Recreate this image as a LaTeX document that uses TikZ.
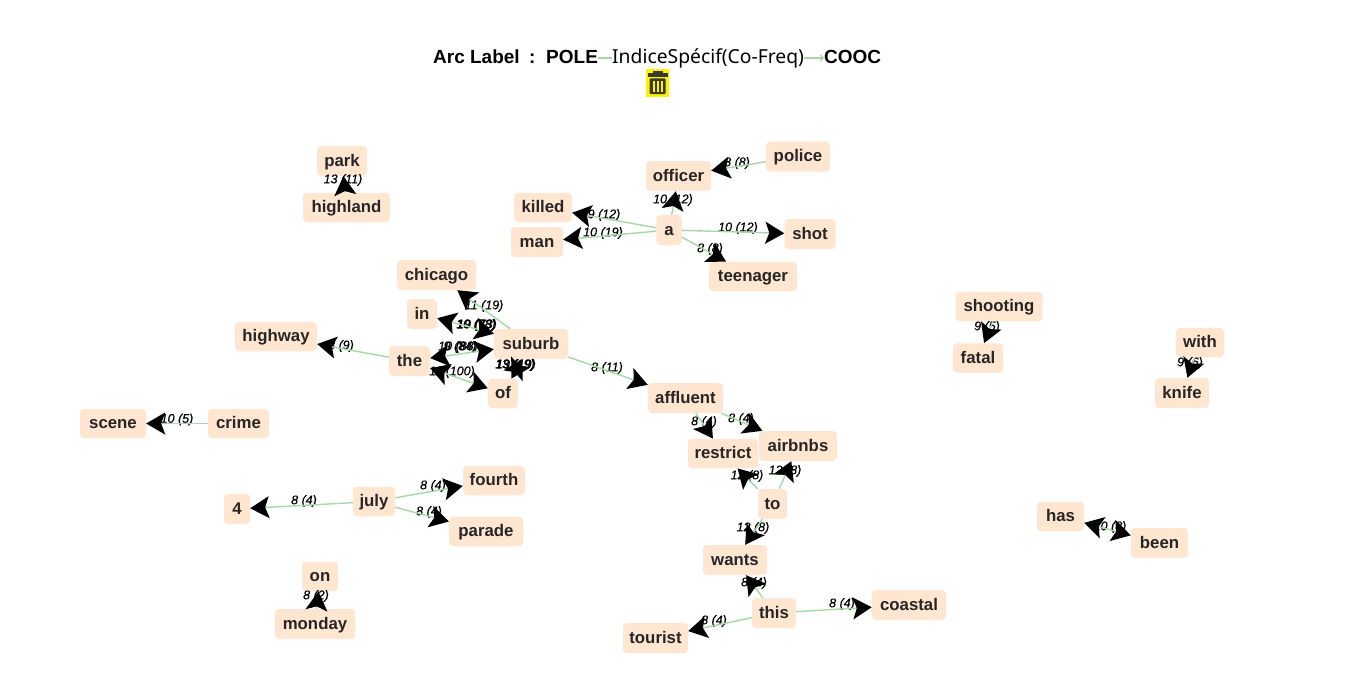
\documentclass[tikz,border=0pt]{standalone}
\usepackage{fontspec}
\setmainfont{Liberation Sans}
\newfontfamily\wordfont{Liberation Sans Bold}
\newfontfamily\labfont{Liberation Sans Italic}[FakeBold=0.4]
\newfontfamily\titlefont{Noto Sans}
\newfontfamily\titlebf{Liberation Sans Bold}
\usetikzlibrary{arrows.meta}
\definecolor{peach}{HTML}{FFE6D0}
\definecolor{edgegreen}{HTML}{A6D8A6}
\definecolor{inkc}{HTML}{262626}
\definecolor{trashc}{HTML}{3A3A2A}
\tikzset{
  bigtip/.tip={Stealth[length=19pt,width=22pt,inset=4pt,color=black]},
  wordbox/.style={fill=peach,rounded corners=4pt,inner sep=0pt,text=inkc,
    font=\wordfont\fontsize{16.8}{20}\selectfont,text height=12pt,text depth=2pt,align=center},
  edgelabel/.style={inner sep=0pt,text=black,font=\labfont\fontsize{12.5}{14}\selectfont},
  link/.style={draw=edgegreen,line width=1.4pt,-bigtip},
  bothlink/.style={draw=edgegreen,line width=1.4pt,bigtip-bigtip},
  titletext/.style={inner sep=0pt,anchor=base west,text=black,font=\titlefont\fontsize{19.3}{22}\selectfont},
  titlebold/.style={titletext,font=\titlebf\fontsize{19}{22}\selectfont},
}
\newcommand{\wordnode}[6]{\node[wordbox,minimum width=#4pt,minimum height=#5pt] (#1) at (#2,#3) {#6};}
\newcommand{\elab}[4]{\node[edgelabel] (#1) at (#2,#3) {#4};}
\begin{document}
\begin{tikzpicture}[x=1pt,y=-1pt]
\useasboundingbox (0,0) rectangle (1347,685);
\fill[white] (0,0) rectangle (1347,685);
% title
\node[titlebold] (t1) at (433,63.5) {Arc Label\kern4pt\ :};
\node[titlebold] (t2) at (546,63.5) {POLE};
\node[titletext] (t3) at (612,64) {IndiceSpécif(Co-Freq)};
\node[titlebold] (t4) at (824,63.5) {COOC};
\coordinate (g1) at (598,58);
\coordinate (g2) at (612,58);
\coordinate (g3) at (804,58);
\coordinate (g4) at (824,58);
\draw[edgegreen,line width=1.2pt] (g1) -- (g2);
\draw[edgegreen,line width=1.2pt,-{Straight Barb[length=3pt,width=6pt]}] (g3) -- (g4);
% trash
\fill[yellow] (645.5,69) rectangle (669,97);
\fill[trashc] (648,73.5) rectangle (667.5,77);
\fill[trashc] (653,71.5) rectangle (662.5,74);
\fill[trashc,rounded corners=1pt] (649.5,78.5) rectangle (665.5,94);
\fill[yellow] (652.5,81) rectangle (655,91.5);
\fill[yellow] (656.5,81) rectangle (659,91.5);
\fill[yellow] (660.5,81) rectangle (663,91.5);
% nodes
\wordnode{park}{342}{161}{50}{30}{park}
\wordnode{highland}{346.5}{207.5}{87}{29.5}{highland}
\wordnode{highway}{276}{336.5}{82}{29.5}{highway}
\wordnode{scene}{113}{423.5}{66}{29.5}{scene}
\wordnode{crime}{238.5}{423.5}{61}{29.5}{crime}
\wordnode{chicago}{436.5}{275}{79}{30}{chicago}
\wordnode{in}{422}{314}{30}{30}{in}
\wordnode{the}{409.5}{361}{41}{30}{the}
\wordnode{suburb}{531}{344}{74}{30}{suburb}
\wordnode{of}{503}{393.5}{30}{29.5}{of}
\wordnode{officer}{678.5}{176}{65}{30}{officer}
\wordnode{police}{798}{156.5}{64}{30}{police}
\wordnode{killed}{543}{207.5}{58}{29.5}{killed}
\wordnode{man}{537}{242}{52}{30}{man}
\wordnode{a}{669}{230}{25.5}{30}{a}
\wordnode{shot}{810}{234}{51}{30}{shot}
\wordnode{teenager}{753}{276.5}{88}{29.5}{teenager}
\wordnode{affluent}{685.5}{398}{75}{30}{affluent}
\wordnode{restrict}{723}{453.5}{70}{29.5}{restrict}
\wordnode{airbnbs}{798}{446}{78}{30}{airbnbs}
\wordnode{to}{772.5}{504}{29}{30}{to}
\wordnode{wants}{735}{560}{64}{30}{wants}
\wordnode{this}{774}{613}{44}{30}{this}
\wordnode{tourist}{655.5}{638}{65}{30}{tourist}
\wordnode{coastal}{909}{605}{74}{30}{coastal}
\wordnode{four}{237}{509}{26}{30}{4}
\wordnode{july}{374}{501.5}{42}{29.5}{july}
\wordnode{fourth}{494}{480.5}{62}{29.5}{fourth}
\wordnode{parade}{486}{531.5}{74}{29.5}{parade}
\wordnode{on}{320}{576.5}{36}{29.5}{on}
\wordnode{monday}{315}{624}{80.5}{30}{monday}
\wordnode{shooting}{999}{306.5}{87}{29.5}{shooting}
\wordnode{fatal}{978}{358}{50}{29.5}{fatal}
\wordnode{with}{1200}{342.5}{48}{29.5}{with}
\wordnode{knife}{1182}{393}{54}{30}{knife}
\wordnode{has}{1060.5}{516.5}{47}{29.5}{has}
\wordnode{been}{1159.5}{543}{57}{30}{been}
% labels
\elab{l1}{343}{180}{13 (11)}
\elab{l2}{737}{163}{8 (8)}
\elab{l3}{673}{200}{10 (12)}
\elab{l4}{604}{215}{9 (12)}
\elab{l5}{603}{233}{10 (19)}
\elab{l6}{738}{228}{10 (12)}
\elab{l7}{710}{249}{8 (8)}
\elab{l8}{341}{346}{8 (9)}
\elab{l9}{177}{419.5}{10 (5)}
\elab{l10}{484}{306}{11 (19)}
\elab{l11a}{476}{325}{10 (78)}
\elab{l11b}{477}{325}{19 (73)}
\elab{l12a}{458}{347}{10 (88)}
\elab{l12b}{460}{347}{9 (84)}
\elab{l13}{452}{372}{11 (100)}
\elab{l14a}{515}{365}{13 (19)}
\elab{l14b}{516}{365}{19 (19)}
\elab{l15}{607}{368}{8 (11)}
\elab{l16}{704}{422}{8 (4)}
\elab{l17}{741}{419}{8 (4)}
\elab{l18}{747}{476}{12 (8)}
\elab{l19}{785}{471}{12 (8)}
\elab{l20}{753}{528}{12 (8)}
\elab{l21}{754}{583}{8 (4)}
\elab{l22}{714}{621}{8 (4)}
\elab{l23}{842}{604}{8 (4)}
\elab{l24}{304}{501}{8 (4)}
\elab{l25}{433}{486}{8 (4)}
\elab{l26}{429}{512}{8 (4)}
\elab{l27}{316}{596}{8 (2)}
\elab{l28}{987}{327}{9 (5)}
\elab{l29}{1190}{363}{9 (6)}
\elab{l30}{1110}{527}{10 (8)}
% connectors
\draw[link] (highland) -- (park);
\draw[link] (police) -- (officer);
\draw[link] (a) -- (officer);
\draw[link] (a) -- (killed);
\draw[link] (a) -- (man);
\draw[link] (a) -- (shot);
\draw[link] (a) -- (teenager);
\draw[link] (the) -- (highway);
\draw[link] (crime) -- (scene);
\draw[link] (suburb) -- (chicago);
\draw[bothlink] (in) -- (suburb);
\draw[bothlink] (the) -- (suburb);
\draw[bothlink] (the) -- (of);
\draw[bothlink] (suburb) -- (of);
\draw[link] (suburb) -- (affluent);
\draw[link] (affluent) -- (restrict);
\draw[link] (affluent) -- (airbnbs);
\draw[link] (to) -- (restrict);
\draw[link] (to) -- (airbnbs);
\draw[link] (to) -- (wants);
\draw[link] (this) -- (wants);
\draw[link] (this) -- (tourist);
\draw[link] (this) -- (coastal);
\draw[link] (july) -- (four);
\draw[link] (july) -- (fourth);
\draw[link] (july) -- (parade);
\draw[link] (monday) -- (on);
\draw[link] (shooting) -- (fatal);
\draw[link] (with) -- (knife);
\draw[bothlink] (has) -- (been);
\end{tikzpicture}
\end{document}
